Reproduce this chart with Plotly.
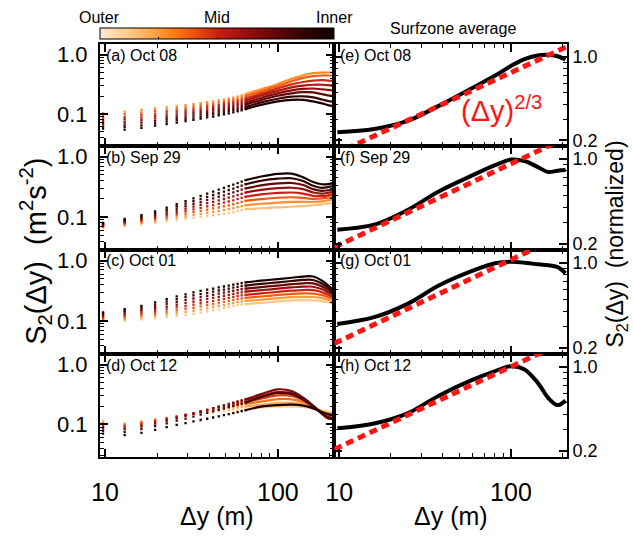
import numpy as np
import plotly.graph_objects as go
from plotly.colors import sample_colorscale

W, H = 633, 538
FONT = "Liberation Sans, Arial, Helvetica, sans-serif"

# ---------------------------------------------------------------- data
# along-shore lags (m) of the individual structure-function estimates
DY_DOTS = [9.75, 13.0, 16.25, 19.5, 22.75, 26.0, 29.25, 32.5, 35.75, 39.0,
           42.25, 45.5, 48.75, 52.0, 55.25, 58.5, 61.75, 65.0]
# larger lags, where the estimates are dense enough to read as curves
DY_TAIL = [80, 100, 120, 140, 160, 180, 195, 208]

LEFT_LABELS = ["(a) Oct 08", "(b) Sep 29", "(c) Oct 01", "(d) Oct 12"]
RIGHT_LABELS = ["(e) Oct 08", "(f) Sep 29", "(g) Oct 01", "(h) Oct 12"]
POSITION_NAMES = ["Outer", "Mid", "Inner"]
POSITION_TICKS = [0.0, 0.5, 1.0]

# cross-shore position of each curve (0 = outer surfzone, 1 = inner)
POS_A = [0.28, 0.38, 0.48, 0.57, 0.66, 0.75, 0.85, 0.95]
POS_B = [0.15, 0.27, 0.39, 0.51, 0.63, 0.75, 0.87, 0.97]
POS_C = [0.13, 0.25, 0.38, 0.50, 0.62, 0.74, 0.86, 0.97]
POS_D = [0.10, 0.22, 0.34, 0.46, 0.58, 0.70, 0.82, 0.95]

# S2 (m^2 s^-2) at DY_DOTS, one row per cross-shore position
S2_DOTS_A = [
    [.103, .109, .116, .123, .129, .135, .140, .146, .151, .157, .162, .168, .174, .180, .187, .195, .204, .215],
    [.094, .099, .105, .112, .117, .123, .128, .134, .139, .144, .149, .155, .160, .166, .172, .179, .188, .198],
    [.086, .089, .095, .101, .107, .112, .117, .122, .127, .133, .137, .142, .148, .153, .159, .165, .173, .182],
    [.079, .081, .086, .092, .097, .102, .107, .112, .117, .122, .126, .131, .136, .141, .147, .152, .159, .168],
    [.073, .073, .078, .084, .089, .093, .098, .103, .107, .112, .116, .120, .125, .130, .135, .140, .147, .154],
    [.067, .066, .071, .076, .081, .085, .090, .094, .098, .103, .106, .111, .115, .120, .125, .129, .135, .142],
    [.061, .060, .064, .069, .074, .078, .082, .086, .090, .095, .098, .102, .106, .111, .115, .119, .125, .130],
    [.056, .054, .058, .063, .067, .071, .075, .079, .083, .087, .090, .094, .098, .102, .106, .110, .115, .120],
]
S2_TAIL_A = [
    [.260, .320, .390, .450, .490, .500, .500, .500],
    [.240, .295, .355, .405, .435, .445, .445, .440],
    [.220, .270, .315, .345, .365, .370, .365, .360],
    [.205, .245, .280, .300, .310, .310, .305, .300],
    [.187, .222, .250, .265, .268, .260, .255, .250],
    [.172, .202, .222, .232, .230, .215, .205, .200],
    [.156, .180, .195, .198, .190, .175, .165, .160],
    [.142, .162, .172, .172, .162, .150, .140, .135],
]

S2_DOTS_B = [
    [.066, .071, .076, .081, .086, .090, .094, .098, .101, .104, .107, .110, .113, .117, .121, .125, .130, .135],
    [.068, .074, .080, .086, .092, .098, .103, .109, .113, .118, .122, .126, .130, .135, .140, .146, .152, .158],
    [.070, .077, .084, .092, .099, .107, .114, .121, .127, .133, .139, .144, .150, .157, .163, .170, .178, .185],
    [.072, .080, .088, .097, .107, .116, .125, .134, .142, .150, .158, .165, .173, .181, .189, .198, .208, .217],
    [.074, .083, .092, .103, .115, .127, .138, .149, .160, .170, .179, .189, .199, .210, .220, .231, .243, .255],
    [.076, .086, .097, .110, .124, .138, .152, .165, .179, .192, .204, .217, .229, .243, .256, .269, .284, .298],
    [.078, .089, .102, .117, .133, .150, .167, .184, .200, .216, .232, .248, .264, .281, .297, .314, .332, .350],
    [.080, .093, .107, .124, .143, .163, .184, .204, .224, .244, .264, .284, .304, .325, .345, .366, .388, .410],
]
S2_TAIL_B = [
    [.140, .145, .148, .152, .157, .162, .167, .172],
    [.166, .174, .178, .178, .178, .182, .190, .196],
    [.198, .209, .213, .208, .200, .203, .210, .216],
    [.237, .251, .255, .245, .225, .222, .230, .237],
    [.283, .301, .306, .290, .255, .245, .253, .262],
    [.335, .361, .367, .340, .290, .272, .278, .286],
    [.400, .433, .440, .395, .330, .305, .313, .325],
    [.470, .520, .525, .455, .380, .350, .352, .365],
]

S2_DOTS_C = [
    [.100, .101, .106, .111, .116, .122, .127, .132, .138, .144, .150, .156, .163, .170, .177, .183, .187, .191],
    [.105, .108, .114, .121, .128, .136, .142, .148, .155, .162, .169, .176, .184, .191, .199, .206, .210, .215],
    [.110, .115, .123, .132, .141, .151, .159, .166, .175, .183, .190, .198, .207, .215, .224, .231, .236, .242],
    [.115, .122, .133, .144, .156, .168, .177, .187, .197, .206, .214, .223, .233, .242, .251, .259, .266, .272],
    [.121, .130, .143, .157, .172, .186, .198, .210, .221, .232, .242, .252, .262, .272, .282, .291, .299, .306],
    [.127, .139, .154, .171, .190, .207, .222, .236, .249, .261, .272, .284, .295, .306, .317, .327, .336, .344],
    [.133, .148, .166, .187, .209, .230, .248, .265, .280, .293, .307, .320, .332, .344, .356, .367, .377, .387],
    [.139, .158, .179, .204, .231, .256, .277, .298, .315, .330, .345, .360, .373, .387, .400, .412, .424, .435],
]
S2_TAIL_C = [
    [.200, .212, .220, .222, .220, .214, .205, .195],
    [.226, .239, .249, .252, .250, .240, .225, .211],
    [.255, .270, .281, .287, .285, .268, .248, .231],
    [.287, .304, .318, .326, .325, .300, .272, .250],
    [.324, .343, .360, .371, .370, .335, .298, .270],
    [.365, .387, .407, .421, .420, .373, .327, .295],
    [.412, .437, .460, .479, .478, .415, .357, .315],
    [.465, .494, .520, .545, .545, .465, .390, .337],
]

S2_DOTS_D = [
    [.116, .104, .112, .120, .127, .134, .140, .146, .151, .155, .159, .163, .166, .169, .172, .174, .176, .178],
    [.110, .102, .111, .120, .128, .136, .143, .150, .156, .162, .168, .173, .178, .183, .188, .192, .196, .200],
    [.104, .099, .108, .118, .127, .136, .145, .153, .161, .168, .175, .182, .189, .196, .202, .208, .214, .220],
    [.098, .094, .104, .114, .124, .134, .144, .154, .163, .172, .181, .190, .198, .206, .214, .222, .229, .236],
    [.092, .088, .098, .109, .120, .131, .142, .153, .164, .175, .186, .196, .206, .216, .226, .236, .246, .255],
    [.086, .082, .092, .103, .114, .126, .138, .150, .162, .174, .186, .197, .208, .219, .230, .241, .252, .262],
    [.078, .074, .083, .093, .104, .115, .125, .135, .145, .155, .165, .175, .185, .195, .204, .213, .222, .230],
    [.070, .066, .072, .081, .090, .098, .105, .112, .118, .124, .130, .136, .142, .148, .154, .160, .166, .172],
]
S2_TAIL_D = [
    [.190, .197, .197, .193, .183, .170, .163, .160],
    [.212, .228, .228, .215, .190, .165, .155, .152],
    [.240, .265, .262, .235, .195, .160, .146, .143],
    [.270, .305, .298, .255, .200, .155, .138, .135],
    [.298, .345, .335, .270, .203, .152, .130, .127],
    [.320, .385, .360, .280, .205, .150, .125, .122],
    [.285, .335, .322, .260, .198, .152, .130, .126],
    [.198, .210, .213, .205, .185, .160, .148, .142],
]

# surfzone-averaged, normalized S2
AVG_DY = [9.75, 16, 25, 38, 60, 81, 100, 120, 145, 165, 187, 208]
AVG_E = [0.233, 0.248, 0.290, 0.388, 0.550, 0.696, 0.838, 0.955, 1.030, 1.040, 1.010, 0.950]
AVG_F = [0.262, 0.288, 0.380, 0.540, 0.735, 0.887, 0.987, 0.960, 0.850, 0.780, 0.800, 0.810]
AVG_G = [0.315, 0.358, 0.460, 0.650, 0.860, 0.990, 1.020, 1.000, 0.970, 0.955, 0.920, 0.820]
AVG_H = [0.308, 0.338, 0.410, 0.575, 0.780, 0.920, 1.010, 0.950, 0.720, 0.550, 0.480, 0.525]

# lag (m) at which the (dy)^(2/3) reference line reaches 1
UNIT_DY = [158, 115, 92, 100]
LAG_LIMITS = [9.36, 212]

LEFT_SETS = [(POS_A, S2_DOTS_A, S2_TAIL_A), (POS_B, S2_DOTS_B, S2_TAIL_B),
             (POS_C, S2_DOTS_C, S2_TAIL_C), (POS_D, S2_DOTS_D, S2_TAIL_D)]
AVG_SETS = [AVG_E, AVG_F, AVG_G, AVG_H]

# outer -> inner colour map
CSCALE = [
    [0.00, "#FFEAD0"], [0.12, "#FFCB8C"], [0.25, "#FF9A3A"], [0.32, "#FF7C10"],
    [0.42, "#E8480E"], [0.52, "#C41A14"], [0.62, "#9C1010"], [0.75, "#620808"],
    [0.88, "#2E0303"], [1.00, "#0E0000"],
]

# ---------------------------------------------------------------- layout geometry (pixels)
X_LEFT, X_MID, X_RIGHT = 92.3, 330.0, 566.0
ROW_EDGES = [42.7, 145.7, 250.7, 356.0, 460.0]
BAR_TOP, BAR_THICK = 26.7, 10.6


def fx(p):
    return p / W


def fy(p):
    return 1 - p / H


def sfx(n):
    """Axis-id suffix used by plotly (axis 1 has none)."""
    return "" if n == 1 else str(n)


fig = go.Figure()

# left column: individual cross-shore positions
for r, (pos, dots, tail) in enumerate(LEFT_SETS):
    s = sfx(r + 1)
    cols = sample_colorscale(CSCALE, pos)
    for k in range(len(pos)):
        fig.add_trace(go.Scatter(
            x=DY_DOTS, y=dots[k], mode="markers",
            marker=dict(symbol="square", size=2.3, color=cols[k], line=dict(width=0)),
            xaxis="x" + s, yaxis="y" + s, showlegend=False, hoverinfo="skip"))
        fig.add_trace(go.Scatter(
            x=[DY_DOTS[-1]] + DY_TAIL, y=[dots[k][-1]] + tail[k], mode="lines",
            line=dict(color=cols[k], width=2.2, shape="spline"),
            xaxis="x" + s, yaxis="y" + s, showlegend=False, hoverinfo="skip"))

# right column: surfzone average and (dy)^(2/3)
for r, avg in enumerate(AVG_SETS):
    s = sfx(r + 5)
    fig.add_trace(go.Scatter(
        x=AVG_DY, y=avg, mode="lines",
        line=dict(color="black", width=4, shape="spline"),
        xaxis="x" + s, yaxis="y" + s, showlegend=False, hoverinfo="skip"))
    lags = np.array(LAG_LIMITS, dtype=float)
    fig.add_trace(go.Scatter(
        x=lags, y=(lags / UNIT_DY[r]) ** (2.0 / 3.0), mode="lines",
        line=dict(color="#FF1414", width=5, dash="8px,5px"),
        xaxis="x" + s, yaxis="y" + s, showlegend=False, hoverinfo="skip"))

# colour bar for cross-shore position
colorbar = dict(
    orientation="h", x=fx((X_LEFT + X_MID) / 2), xanchor="center",
    y=fy(BAR_TOP), yanchor="top", len=(X_MID - X_LEFT) / W, lenmode="fraction",
    thickness=BAR_THICK, thicknessmode="pixels", outlinewidth=1, outlinecolor="black",
    xpad=0, ypad=0, tickvals=[0.25, 0.5, 0.75], showticklabels=False,
    ticks="inside", ticklen=2, tickcolor="black",
)
fig.add_trace(go.Scatter(
    x=[None], y=[None], mode="markers", xaxis="x", yaxis="y",
    showlegend=False, hoverinfo="skip",
    marker=dict(color=[0.5], cmin=0, cmax=1, colorscale=CSCALE, showscale=True,
                colorbar=colorbar),
))

x_range = [np.log10(LAG_LIMITS[0]), np.log10(LAG_LIMITS[1])]
left_y_range = [np.log10(0.0285), np.log10(1.503)]
right_y_range = [np.log10(0.1786), np.log10(1.274)]

base_axis = dict(type="log", showgrid=False, zeroline=False, showline=True,
                 linecolor="black", linewidth=2, mirror="allticks",
                 ticks="inside", ticklen=8, tickwidth=1.6, tickcolor="black")

layout_axes = {}
for r in range(4):
    top, bot = ROW_EDGES[r], ROW_EDGES[r + 1]
    ydom = [fy(bot), fy(top)]
    for col in range(2):
        s = sfx(r + 1 + 4 * col)
        xdom = [fx(X_LEFT), fx(X_MID)] if col == 0 else [fx(X_MID), fx(X_RIGHT)]
        bottom = r == 3
        layout_axes["xaxis" + s] = dict(
            base_axis, domain=xdom, range=x_range, anchor="y" + s,
            tickmode="array", tickvals=[10, 100], ticktext=["10", "100"],
            showticklabels=bottom, ticklabelstandoff=12,
            tickfont=dict(family=FONT, size=25, color="black"),
            minor=dict(ticks="inside", ticklen=4, tickwidth=1.2, tickcolor="black",
                       tickmode="array", tickvals=[20, 30, 40, 50, 60, 70, 80, 90, 200]))
        if col == 0:
            layout_axes["yaxis" + s] = dict(
                base_axis, domain=ydom, range=left_y_range, anchor="x" + s,
                tickmode="array", tickvals=[0.1, 1.0], ticktext=["0.1", "1.0"],
                ticklabelstandoff=6, side="left",
                tickfont=dict(family=FONT, size=22, color="black"),
                minor=dict(ticks="inside", ticklen=4, tickwidth=1.2, tickcolor="black",
                           tickmode="array",
                           tickvals=[0.03, 0.04, 0.05, 0.06, 0.07, 0.08, 0.09,
                                     0.2, 0.3, 0.4, 0.5, 0.6, 0.7, 0.8, 0.9]))
        else:
            layout_axes["yaxis" + s] = dict(
                base_axis, domain=ydom, range=right_y_range, anchor="x" + s,
                tickmode="array", tickvals=[0.2, 1.0], ticktext=["0.2", "1.0"],
                ticklabelstandoff=0, side="right",
                tickfont=dict(family=FONT, size=18, color="black"),
                minor=dict(ticks="inside", ticklen=4, tickwidth=1.2, tickcolor="black",
                           tickmode="array",
                           tickvals=[0.3, 0.4, 0.5, 0.6, 0.7, 0.8, 0.9]))

annotations = []
for r in range(4):
    for col, labels in enumerate([LEFT_LABELS, RIGHT_LABELS]):
        s = sfx(r + 1 + 4 * col)
        annotations.append(dict(
            text=labels[r], xref="x" + s + " domain", yref="y" + s + " domain",
            x=0, y=1, xanchor="left", yanchor="middle", xshift=4, yshift=-11,
            showarrow=False, font=dict(family=FONT, size=16, color="black")))

# colour-bar labels above the bar
for name, t in zip(POSITION_NAMES, POSITION_TICKS):
    annotations.append(dict(
        text=name, xref="paper", yref="paper",
        x=fx(X_LEFT + t * (X_MID - X_LEFT)), y=fy(16), xanchor="center", yanchor="middle",
        showarrow=False, font=dict(family=FONT, size=16, color="black")))

annotations += [
    dict(text="Surfzone average", xref="paper", yref="paper", x=fx(450), y=fy(27),
         xanchor="center", yanchor="middle", showarrow=False,
         font=dict(family=FONT, size=16, color="black")),
    dict(text="(Δy)<sup>2/3</sup>", xref="paper", yref="paper", x=fx(456), y=fy(108),
         xanchor="left", yanchor="middle", showarrow=False,
         font=dict(family=FONT, size=29, color="#FF1414")),
    dict(text="S<sub>2</sub>(Δy)  (m<sup>2</sup>s<sup>-2</sup>)", xref="paper", yref="paper",
         x=fx(27), y=fy(252), xanchor="center", yanchor="middle", textangle=-90,
         showarrow=False, font=dict(family=FONT, size=29, color="black")),
    dict(text="S<sub>2</sub>(Δy)  (normalized)", xref="paper", yref="paper",
         x=fx(616), y=fy(245), xanchor="center", yanchor="middle", textangle=-90,
         showarrow=False, font=dict(family=FONT, size=23, color="black")),
    dict(text="Δy (m)", xref="paper", yref="paper", x=fx(211), y=fy(520),
         xanchor="center", yanchor="middle", showarrow=False,
         font=dict(family=FONT, size=25, color="black")),
    dict(text="Δy (m)", xref="paper", yref="paper", x=fx(448), y=fy(520),
         xanchor="center", yanchor="middle", showarrow=False,
         font=dict(family=FONT, size=25, color="black")),
]

fig.update_layout(
    width=W, height=H, margin=dict(l=0, r=0, t=0, b=0, pad=0),
    paper_bgcolor="white", plot_bgcolor="white",
    font=dict(family=FONT, color="black"),
    annotations=annotations, **layout_axes)

fig.write_html("out.html")
